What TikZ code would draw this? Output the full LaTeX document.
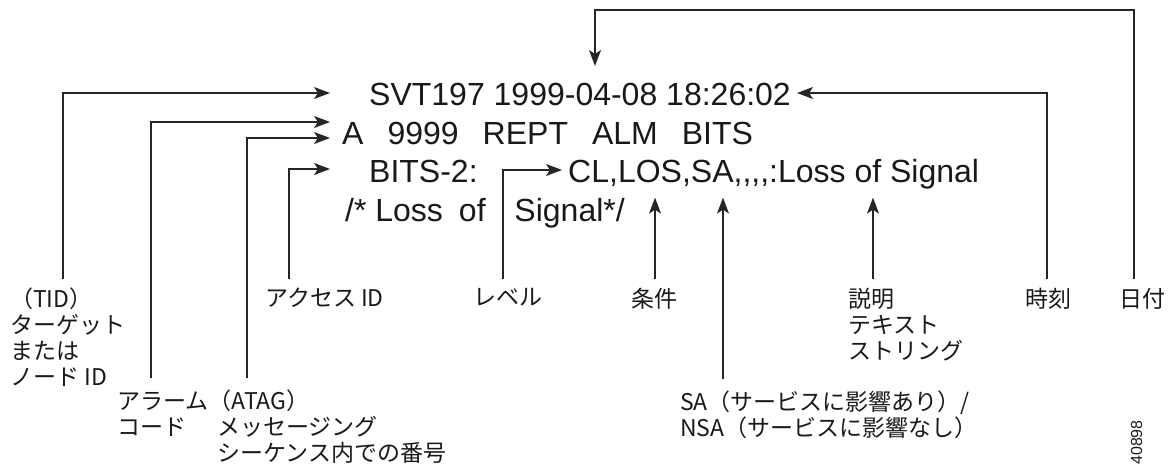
\documentclass[tikz,border=0pt]{standalone}
\usepackage{fontspec}
\setmainfont{Liberation Sans}
\newfontfamily\jpfont{Noto Sans CJK JP}
\usetikzlibrary{arrows.meta}

\begin{document}
\begin{tikzpicture}[
    x=1pt, y=-1pt,
    msg/.style = {anchor=base west, inner sep=0pt, text=black!90,
      font=\fontsize{32}{38}\selectfont},
    lbl/.style = {anchor=north west, inner sep=0pt, align=left, text=black!90,
      font=\jpfont\fontsize{23}{26}\selectfont},
    arr/.style = {-{Stealth[length=16pt,width=12pt,inset=4pt]},
      line width=1.1pt, draw=black!85},
  ]
\useasboundingbox (0,0) rectangle (1172,464);

\node[msg] (svt)  at (369,105) {SVT197 1999-04-08 18:26:02};
\node[msg] (alm)  at (342,144)
    {A\hspace{0.75em}9999\hspace{0.75em}REPT\hspace{0.75em}ALM\hspace{0.75em}BITS};
\node[msg] (aid)  at (369,182) {BITS-2:};
\node[msg] (cond) at (568,182) {CL,LOS,SA,{},{},{},:Loss of Signal};
\node[msg] (cmt)  at (345,221) {/*\ Loss\hspace{0.5em}of\hspace{0.9em}Signal*/};

\node[lbl] (tidlbl)  at (10,288)   {（TID）\\ターゲット\\または\\ノード ID};
\node[lbl] (almlbl)  at (117,390)  {アラーム（ATAG）\\コード};
\node[lbl] (seqlbl)  at (217,416)  {メッセージング\\シーケンス内での番号};
\node[lbl] (aidlbl)  at (265,288)  {アクセス ID};
\node[lbl] (lvllbl)  at (473,288)  {レベル};
\node[lbl] (condlbl) at (631,288)  {条件};
\node[lbl] (desclbl) at (848,288)  {説明\\テキスト\\ストリング};
\node[lbl] (timelbl) at (1025,288) {時刻};
\node[lbl] (datelbl) at (1119,288) {日付};
\node[lbl] (salbl)   at (680,391)
    {SA（サービスに影響あり）/\\NSA（サービスに影響なし）};
\node[rotate=90, anchor=base east, inner sep=0pt, text=black!90,
      font=\fontsize{16}{16}\selectfont] (fignum) at (1142,420) {40898};

\coordinate (tidfoot)  at (63,279);
\coordinate (almfoot)  at (151,378);
\coordinate (seqfoot)  at (247,378);
\coordinate (aidfoot)  at (289,279);
\coordinate (lvlfoot)  at (503,279);
\coordinate (condfoot) at (655,279);
\coordinate (safoot)   at (723,379);
\coordinate (descfoot) at (873,279);
\coordinate (timefoot) at (1047,279);
\coordinate (datefoot) at (1134,279);

\draw[arr] (tidfoot) |- ([shift={(-39pt,12pt)}]svt.base west);
\draw[arr] (almfoot) |- ([shift={(-12pt,22pt)}]alm.base west);
\draw[arr] (seqfoot) |- ([shift={(-12pt,6pt)}]alm.base west);
\draw[arr] (aidfoot) |- ([shift={(-39pt,13pt)}]aid.base west);
\draw[arr] (lvlfoot) |- ([shift={(-6pt,12pt)}]cond.base west);
\draw[arr] (condfoot) -- (condfoot |- cmt.north);
\draw[arr] (safoot) -- (safoot |- cmt.north);
\draw[arr] (descfoot) -- (descfoot |- cmt.north);
\draw[arr] (timefoot) |- ([shift={(6pt,12pt)}]svt.base east);
\draw[arr] (datefoot) |- (595,10) -- (595,66);
\end{tikzpicture}
\end{document}
